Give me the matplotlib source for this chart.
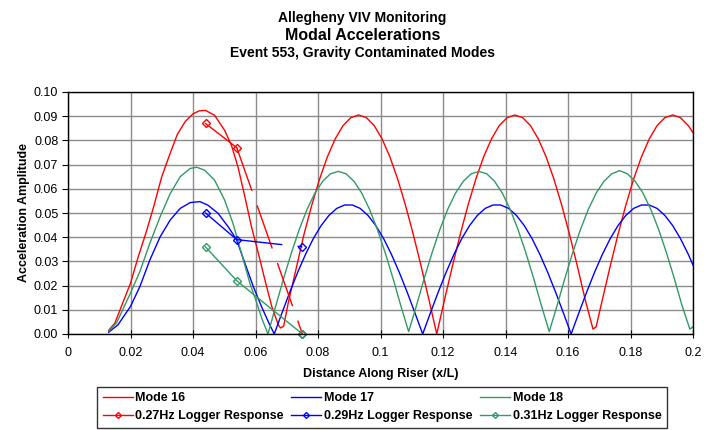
import matplotlib
matplotlib.use('Agg')
import matplotlib.pyplot as plt
from matplotlib.lines import Line2D
from matplotlib.ticker import MultipleLocator, FuncFormatter

plt.rcParams['font.family'] = 'Liberation Sans'

# Mode 16
m16_x = [0.013, 0.015, 0.0175, 0.02, 0.0225, 0.025, 0.0275, 0.03, 0.0325, 0.035, 0.0375, 0.04, 0.042, 0.044,
         0.0469, 0.0501, 0.0523, 0.0544, 0.0566, 0.0587, 0.0609, 0.063, 0.0652, 0.0673, 0.068, 0.069,
         0.0705, 0.073, 0.0755, 0.078, 0.0805, 0.083, 0.0855, 0.088, 0.0905, 0.093,
         0.0955, 0.098, 0.1005, 0.103, 0.1055, 0.108, 0.1105, 0.113, 0.1155, 0.118,
         0.1205, 0.123, 0.1255, 0.128, 0.1305, 0.133, 0.1355, 0.138, 0.1405, 0.143,
         0.1455, 0.148, 0.1505, 0.153, 0.1555, 0.158, 0.1605, 0.163, 0.1655, 0.168, 0.169,
         0.171, 0.1735, 0.176, 0.1785, 0.181, 0.1835, 0.186, 0.1885, 0.191, 0.1935, 0.196, 0.1985, 0.2]
m16_y = [0.0015, 0.0045, 0.0128, 0.021, 0.032, 0.042, 0.053, 0.065, 0.074, 0.0825, 0.0878, 0.091, 0.0922, 0.0924,
         0.0904, 0.0842, 0.078, 0.069, 0.0567, 0.0444, 0.0334, 0.0224, 0.0114, 0.0038, 0.0025, 0.0032,
         0.013, 0.027, 0.0411, 0.0532, 0.064, 0.0732, 0.0806, 0.0861, 0.0894, 0.0905,
         0.0894, 0.0861, 0.0806, 0.0732, 0.064, 0.0532, 0.0411, 0.028, 0.0142, 0.0,
         0.0142, 0.028, 0.0411, 0.0532, 0.064, 0.0732, 0.0806, 0.0861, 0.0894, 0.0905,
         0.0894, 0.0861, 0.0806, 0.0732, 0.064, 0.0532, 0.0411, 0.028, 0.0142, 0.002, 0.003,
         0.0142, 0.028, 0.0411, 0.0532, 0.064, 0.0732, 0.0806, 0.0861, 0.0894, 0.0905, 0.0894, 0.0861, 0.0832]

# Mode 17
m17_x = [0.013, 0.016, 0.02, 0.023, 0.0262, 0.0295, 0.0327, 0.0359, 0.0391, 0.0422,
         0.0447, 0.048, 0.0512, 0.0539, 0.0566, 0.0593, 0.0619, 0.0643, 0.066,
         0.0685, 0.071, 0.0735, 0.076, 0.0785, 0.081, 0.0835, 0.086, 0.0885, 0.091,
         0.0935, 0.096, 0.0985, 0.101, 0.1035, 0.106, 0.1085, 0.111, 0.1135,
         0.116, 0.1185, 0.121, 0.1235, 0.126, 0.1285, 0.131, 0.1335, 0.136, 0.1385,
         0.141, 0.1435, 0.146, 0.1485, 0.151, 0.1535, 0.156, 0.1585, 0.161,
         0.1635, 0.166, 0.1685, 0.171, 0.1735, 0.176, 0.1785, 0.181, 0.1835, 0.186,
         0.1885, 0.191, 0.1935, 0.196, 0.1985, 0.2]
m17_y = [0.0007, 0.0038, 0.0114, 0.0196, 0.0306, 0.0402, 0.0471, 0.0519, 0.0543, 0.0547,
         0.0533, 0.0499, 0.0444, 0.0391, 0.0293, 0.0196, 0.0114, 0.0045, 0.0,
         0.0088, 0.0174, 0.0255, 0.0329, 0.0394, 0.0448, 0.049, 0.0519, 0.0533, 0.0533,
         0.0519, 0.049, 0.0448, 0.0394, 0.0329, 0.0255, 0.0174, 0.0088, 0.0,
         0.0088, 0.0174, 0.0255, 0.0329, 0.0394, 0.0448, 0.049, 0.0519, 0.0533, 0.0533,
         0.0519, 0.049, 0.0448, 0.0394, 0.0329, 0.0255, 0.0174, 0.0088, 0.0,
         0.0088, 0.0174, 0.0255, 0.0329, 0.0394, 0.0448, 0.049, 0.0519, 0.0533, 0.0533,
         0.0519, 0.049, 0.0448, 0.0394, 0.0329, 0.0285]

# Mode 18
m18_x = [0.013, 0.0155, 0.02, 0.023, 0.0262, 0.0295, 0.0327, 0.0359, 0.0391, 0.0412,
         0.0437, 0.0469, 0.0501, 0.0528, 0.0555, 0.0582, 0.0605, 0.062, 0.064,
         0.0665, 0.069, 0.0715, 0.074, 0.0765, 0.079, 0.0815, 0.084, 0.0865,
         0.089, 0.0915, 0.094, 0.0965, 0.099, 0.1015, 0.104, 0.1065, 0.109,
         0.1115, 0.114, 0.1165, 0.119, 0.1215, 0.124, 0.1265, 0.129, 0.1315,
         0.134, 0.1365, 0.139, 0.1415, 0.144, 0.1465, 0.149, 0.1515, 0.154,
         0.1565, 0.159, 0.1615, 0.164, 0.1665, 0.169, 0.1715, 0.174, 0.1765,
         0.179, 0.1815, 0.184, 0.1865, 0.189, 0.1915, 0.194, 0.1965, 0.199, 0.2]
m18_y = [0.0011, 0.0045, 0.0169, 0.0258, 0.0375, 0.0485, 0.058, 0.065, 0.0684, 0.0689,
         0.0677, 0.0636, 0.0554, 0.0457, 0.0334, 0.021, 0.0125, 0.0065, 0.0,
         0.0117, 0.023, 0.0336, 0.0432, 0.0515, 0.0582, 0.0631, 0.0662, 0.0672,
         0.0662, 0.0631, 0.0582, 0.0515, 0.0432, 0.0336, 0.023, 0.0117, 0.001,
         0.0117, 0.023, 0.0336, 0.0432, 0.0515, 0.0582, 0.0631, 0.0662, 0.0672,
         0.0662, 0.0631, 0.0582, 0.0515, 0.0432, 0.0336, 0.023, 0.0117, 0.001,
         0.0117, 0.023, 0.0336, 0.0432, 0.0515, 0.0582, 0.0631, 0.0662, 0.0675,
         0.0662, 0.0631, 0.0582, 0.0515, 0.0432, 0.0336, 0.023, 0.0117, 0.002, 0.003]

# logger responses
log_x = [0.044, 0.054, 0.075]
log27 = [0.087, 0.077, 0.0]
log29 = [0.050, 0.039, 0.036]
log31 = [0.036, 0.022, 0.0]

RED = '#FF0000'
BLUE = '#0000FF'
GREEN = '#339966'

fig = plt.figure(figsize=(7.18, 4.30), dpi=100)
ax = fig.add_axes([68 / 718, 1 - 334 / 430, 625 / 718, 242 / 430])

ax.plot(m16_x, m16_y, color=RED, lw=1)
ax.plot(m17_x, m17_y, color=BLUE, lw=1)
ax.plot(m18_x, m18_y, color=GREEN, lw=1)

mk = dict(marker='D', markersize=4, markerfacecolor='none', markeredgewidth=1, clip_on=False)
# second leg of the red and blue logger lines comes out broken in the original
ax.plot(log_x[:2], log27[:2], color=RED, lw=1, clip_on=False)
ax.plot(log_x[1:], log27[1:], color=RED, lw=1, dashes=(33, 11), clip_on=False)
ax.plot(log_x, log27, color=RED, ls='none', **mk)
ax.plot(log_x[:2], log29[:2], color=BLUE, lw=1, clip_on=False)
ax.plot(log_x[1:], log29[1:], color=BLUE, lw=1, dashes=(33, 11), clip_on=False)
ax.plot(log_x, log29, color=BLUE, ls='none', **mk)
ax.plot(log_x, log31, color=GREEN, lw=1, **mk)

ax.set_xlim(0, 0.2)
ax.set_ylim(0, 0.1)
ax.xaxis.set_major_locator(MultipleLocator(0.02))
ax.yaxis.set_major_locator(MultipleLocator(0.01))
ax.xaxis.set_major_formatter(FuncFormatter(lambda v, p: f'{round(v, 4):g}'))
ax.yaxis.set_major_formatter(FuncFormatter(lambda v, p: f'{v:.2f}'))
ax.grid(True, color='#8c8c8c', lw=1)
ax.set_axisbelow(True)
for s in ax.spines.values():
    s.set_color('black')
    s.set_linewidth(1)
ax.tick_params(axis='x', direction='inout', length=6, labelsize=9, pad=6)
ax.tick_params(axis='y', direction='out', length=4, labelsize=9, pad=3)
ax.set_xlabel('Distance Along Riser (x/L)', fontsize=9, fontweight='bold', labelpad=7)
ax.set_ylabel('Acceleration Amplitude', fontsize=9, fontweight='bold', labelpad=3)

fig.text(0.505, 1 - 22 / 430, 'Allegheny VIV Monitoring', ha='center', va='baseline', fontsize=10, fontweight='bold')
fig.text(0.505, 1 - 40 / 430, 'Modal Accelerations', ha='center', va='baseline', fontsize=11.5, fontweight='bold')
fig.text(0.505, 1 - 57 / 430, 'Event 553, Gravity Contaminated Modes', ha='center', va='baseline', fontsize=10, fontweight='bold')

handles = [
    Line2D([], [], color=RED, lw=1),
    Line2D([], [], color=RED, lw=1, marker='D', markersize=3, markerfacecolor='none'),
    Line2D([], [], color=BLUE, lw=1),
    Line2D([], [], color=BLUE, lw=1, marker='D', markersize=3, markerfacecolor='none'),
    Line2D([], [], color=GREEN, lw=1),
    Line2D([], [], color=GREEN, lw=1, marker='D', markersize=3, markerfacecolor='none'),
]
labels = ['Mode 16', '0.27Hz Logger Response', 'Mode 17', '0.29Hz Logger Response',
          'Mode 18', '0.31Hz Logger Response']
leg = fig.legend(handles, labels, loc='lower left', ncol=3, mode='expand',
                 bbox_to_anchor=(97 / 718, 2 / 430, 570 / 718, 41 / 430),
                 prop={'size': 9, 'weight': 'bold'}, frameon=True, fancybox=False,
                 edgecolor='black', handlelength=2.4, handletextpad=0.2,
                 borderpad=0.45, labelspacing=0.5, borderaxespad=0)
leg.get_frame().set_linewidth(1)

fig.savefig('out.png', dpi=100)
